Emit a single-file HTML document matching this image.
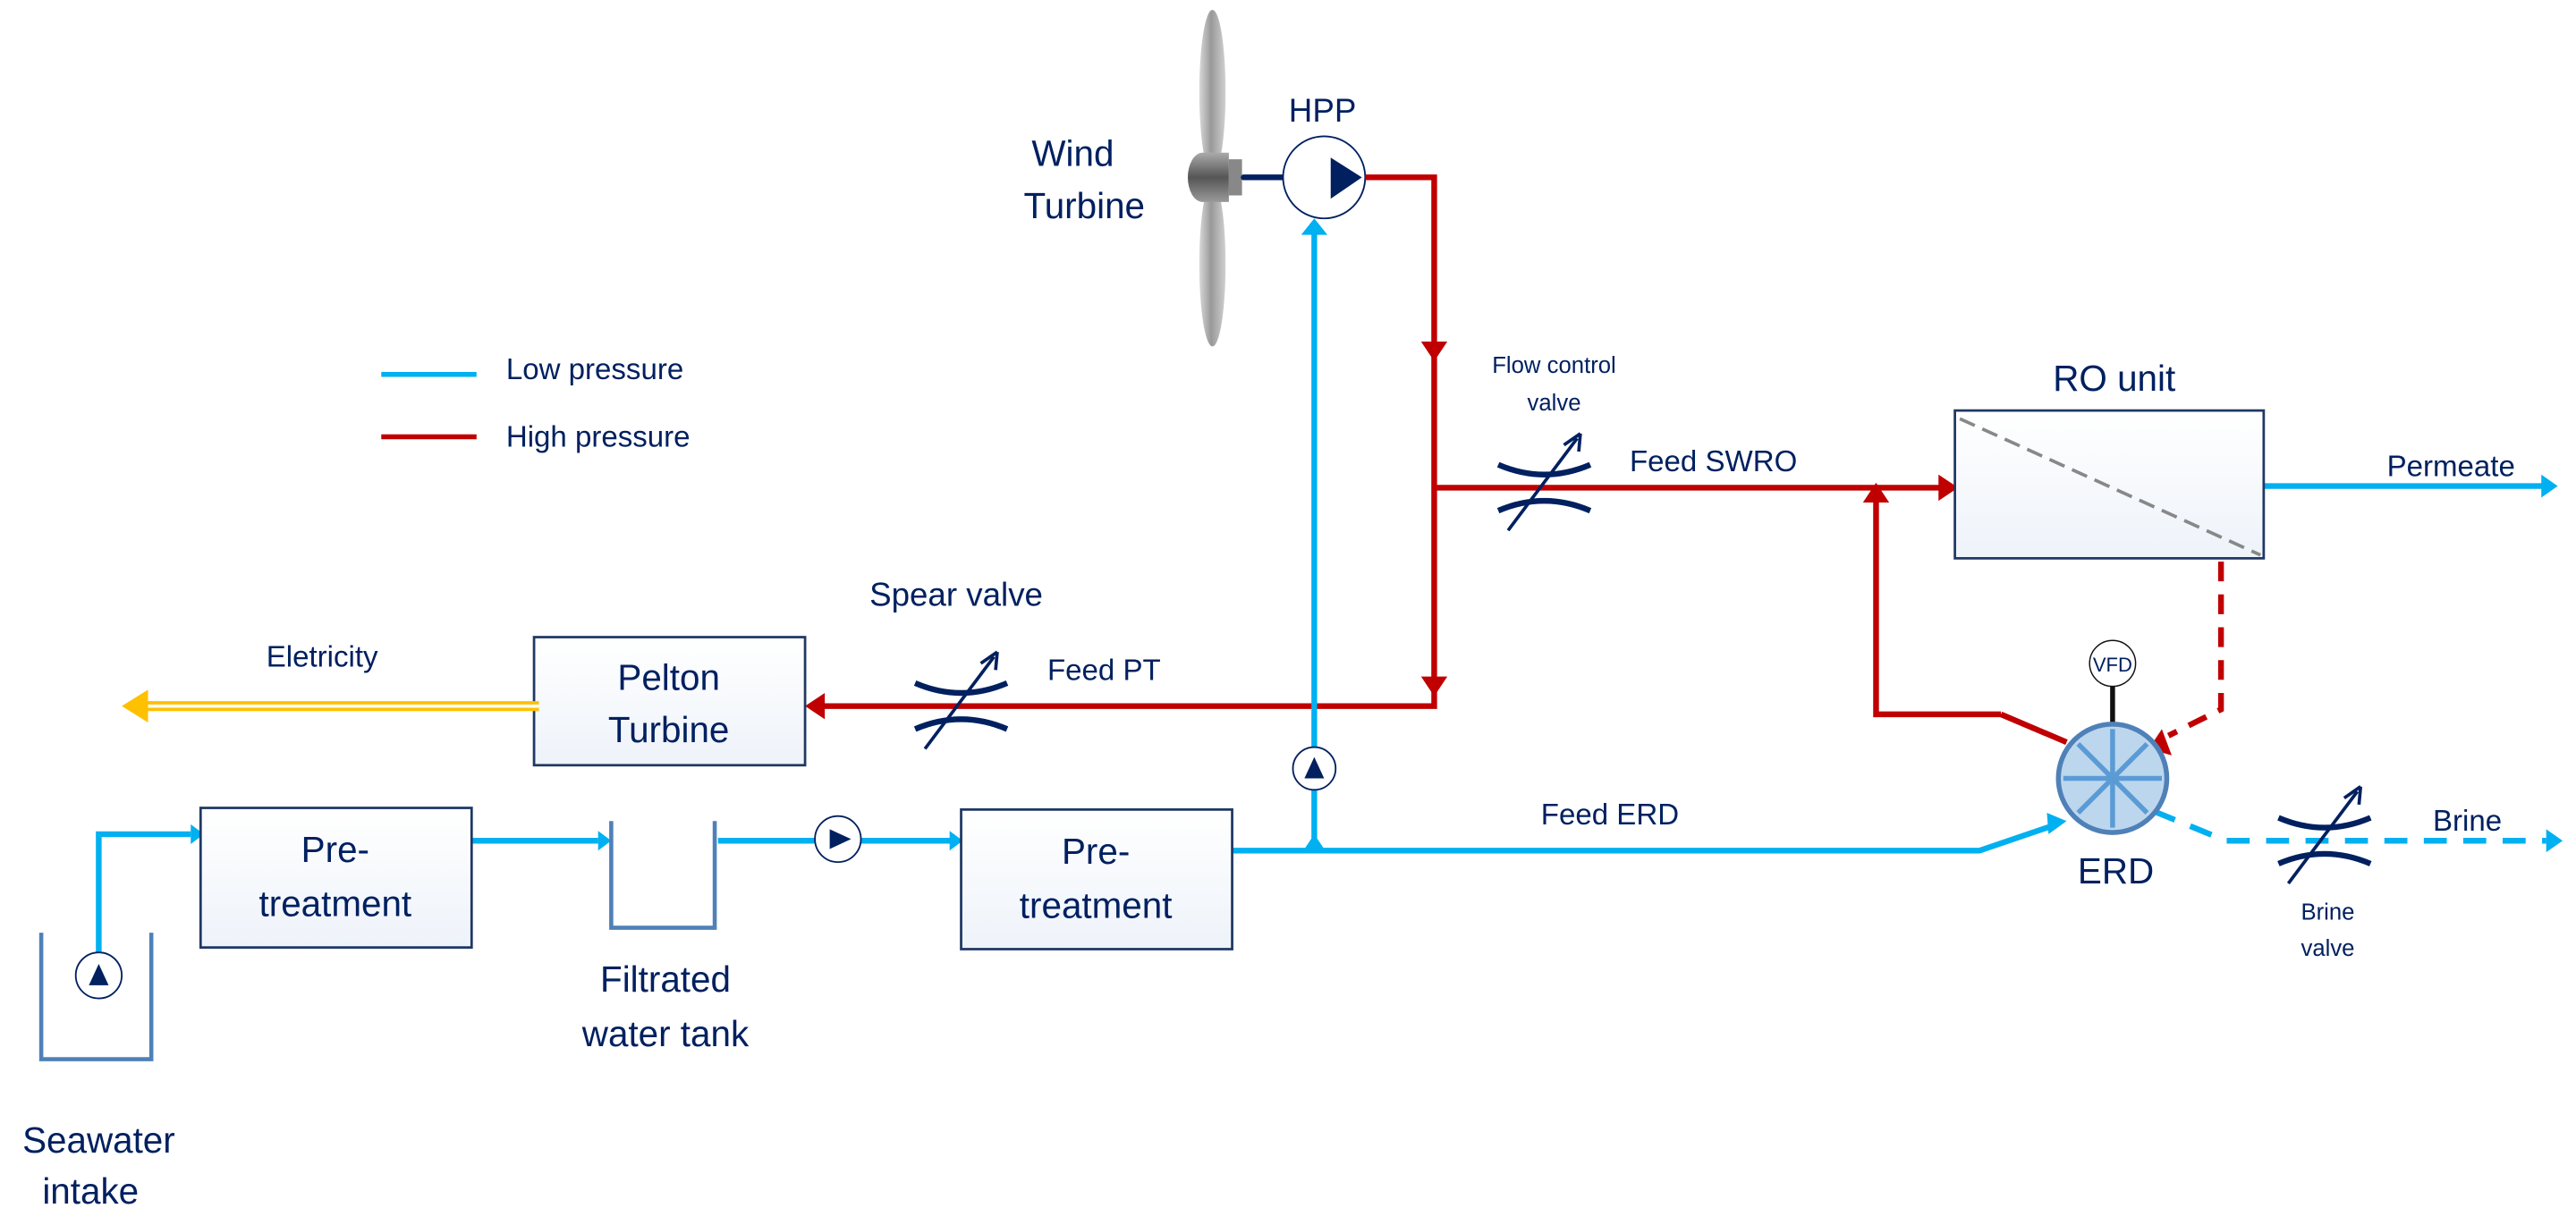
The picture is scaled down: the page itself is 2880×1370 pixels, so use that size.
<!DOCTYPE html>
<html><head><meta charset="utf-8"><style>
html,body{margin:0;padding:0;background:#fff;}
svg{display:block;}
text{font-family:"Liberation Sans",sans-serif;fill:#002060;}
</style></head><body>
<svg width="2880" height="1370" viewBox="0 0 1568 746" xmlns="http://www.w3.org/2000/svg">
<defs>
<linearGradient id="blade" x1="0" x2="1"><stop offset="0" stop-color="#d8d8d8"/><stop offset="0.45" stop-color="#999"/><stop offset="1" stop-color="#d0d0d0"/></linearGradient>
<linearGradient id="hub" x1="0" y1="0" x2="0" y2="1"><stop offset="0" stop-color="#aaa"/><stop offset="0.5" stop-color="#555"/><stop offset="1" stop-color="#999"/></linearGradient>
<linearGradient id="box" x1="0" y1="0" x2="0" y2="1"><stop offset="0" stop-color="#fff"/><stop offset="1" stop-color="#eef3fa"/></linearGradient>
<g id="valve">
<path d="M-28,-14 Q0,-2 28,-14" fill="none" stroke="#002060" stroke-width="3.5"/>
<path d="M-28,14 Q0,2 28,14" fill="none" stroke="#002060" stroke-width="3.5"/>
<line x1="-22" y1="26" x2="20" y2="-30" stroke="#002060" stroke-width="2"/>
<path d="M22,-33 L12,-26 M22,-33 L21,-22" stroke="#002060" stroke-width="2" fill="none"/>
</g>
</defs>

<!-- legend -->
<line x1="232" y1="228" x2="290" y2="228" stroke="#00b0f0" stroke-width="3"/>
<text x="308" y="231" font-size="18">Low pressure</text>
<line x1="232" y1="266" x2="290" y2="266" stroke="#c00000" stroke-width="3"/>
<text x="308" y="272" font-size="18">High pressure</text>

<!-- wind turbine -->
<ellipse cx="738" cy="56" rx="8" ry="50" fill="url(#blade)"/>
<ellipse cx="738" cy="161" rx="8" ry="50" fill="url(#blade)"/>
<path d="M732,93 h16 v30 h-16 a9,15 0 0 1 0,-30z" fill="url(#hub)"/>
<rect x="748" y="97" width="8" height="22" fill="#888"/>
<line x1="757" y1="108" x2="781" y2="108" stroke="#002060" stroke-width="3.5" stroke-linecap="round"/>
<text x="653" y="101" font-size="22" text-anchor="middle">Wind</text>
<text x="660" y="133" font-size="22" text-anchor="middle">Turbine</text>

<!-- HPP -->
<text x="805" y="74" font-size="20" text-anchor="middle">HPP</text>
<circle cx="806" cy="108" r="25" fill="#fff" stroke="#002060" stroke-width="1"/>
<path d="M810,96 L829,108 L810,121z" fill="#002060"/>

<!-- red HP lines -->
<g stroke="#c00000" stroke-width="3.5" fill="none">
<path d="M831,108 H873 V430 H495"/>
<path d="M873,297 H1185"/>
<path d="M1218,435 L1142,435 V303"/>
<path d="M1218,435 L1258,452"/>
<path d="M1352,342 V432 L1320,448" stroke-dasharray="12,8"/>
</g>
<g fill="#c00000">
<path d="M865,208 L881,208 L873,220z"/>
<path d="M865,412 L881,412 L873,424z"/>
<path d="M1180,289 L1192,297 L1180,305z"/>
<path d="M490,430 L502,422 L502,438z"/>
<path d="M1134,306 L1142,294 L1150,306z"/>
<path d="M1308,456 L1316,444 L1322,460z"/>
</g>

<!-- blue LP lines -->
<g stroke="#00b0f0" stroke-width="3.5" fill="none">
<path d="M800,516 V140"/>
<path d="M750,518 H800 H1205 L1252,502"/>
<path d="M60,580 V508 H116"/>
<path d="M287,512 H364"/>
<path d="M437,512 H496"/>
<path d="M524,512 H579"/>
<path d="M1378,296 H1548"/>
<path d="M1311,494 L1355,512 H1550" stroke-dasharray="14,10"/>
</g>
<g fill="#00b0f0">
<path d="M792,143 L800,133 L808,143z"/>
<path d="M116,502 L124,508 L116,514z"/>
<path d="M364,506 L372,512 L364,518z"/>
<path d="M578,506 L586,512 L578,518z"/>
<path d="M1547,289 L1557,296 L1547,303z"/>
<path d="M1550,505 L1560,512 L1550,519z"/>
<path d="M1246,495 L1258,500 L1247,508z"/>
<path d="M794,517 L800,508 L806,517z"/>
</g>

<!-- small pump on vertical -->
<circle cx="800" cy="468" r="13" fill="#fff" stroke="#002060" stroke-width="1"/>
<path d="M794,474 L800,461 L806,474z" fill="#002060"/>

<!-- flow control valve -->
<use href="#valve" x="940" y="297"/>
<text x="946" y="227" font-size="14" text-anchor="middle">Flow control</text>
<text x="946" y="250" font-size="14" text-anchor="middle">valve</text>
<text x="1043" y="287" font-size="18" text-anchor="middle">Feed SWRO</text>

<!-- RO -->
<text x="1287" y="238" font-size="22" text-anchor="middle">RO unit</text>
<rect x="1190" y="250" width="188" height="90" fill="url(#box)" stroke="#1f3864" stroke-width="1.5"/>
<line x1="1193" y1="255" x2="1376" y2="338" stroke="#888" stroke-width="2" stroke-dasharray="10,5"/>
<text x="1492" y="290" font-size="18" text-anchor="middle">Permeate</text>

<!-- ERD -->
<line x1="1286" y1="418" x2="1286" y2="442" stroke="#111" stroke-width="3"/>
<circle cx="1286" cy="404" r="14" fill="#fff" stroke="#111" stroke-width="0.8"/>
<text x="1286" y="409" font-size="12" text-anchor="middle">VFD</text>
<circle cx="1286" cy="474" r="33" fill="#bcd6ee" stroke="#4f81b8" stroke-width="3"/>
<g stroke="#5b9bd5" stroke-width="3">
<line x1="1286" y1="444" x2="1286" y2="504"/>
<line x1="1256" y1="474" x2="1316" y2="474"/>
<line x1="1265" y1="453" x2="1307" y2="495"/>
<line x1="1307" y1="453" x2="1265" y2="495"/>
</g>
<text x="1288" y="538" font-size="22" text-anchor="middle">ERD</text>
<text x="980" y="502" font-size="18" text-anchor="middle">Feed ERD</text>

<!-- brine valve -->
<use href="#valve" x="1415" y="512"/>
<text x="1502" y="506" font-size="18" text-anchor="middle">Brine</text>
<text x="1417" y="560" font-size="14" text-anchor="middle">Brine</text>
<text x="1417" y="582" font-size="14" text-anchor="middle">valve</text>

<!-- Pelton -->
<rect x="325" y="388" width="165" height="78" fill="url(#box)" stroke="#1f3864" stroke-width="1.5"/>
<text x="407" y="420" font-size="22" text-anchor="middle">Pelton</text>
<text x="407" y="452" font-size="22" text-anchor="middle">Turbine</text>
<use href="#valve" x="585" y="430"/>
<text x="582" y="369" font-size="20" text-anchor="middle">Spear valve</text>
<text x="672" y="414" font-size="18" text-anchor="middle">Feed PT</text>

<!-- electricity -->
<line x1="88" y1="430" x2="328" y2="430" stroke="#ffc000" stroke-width="6"/>
<line x1="88" y1="430" x2="328" y2="430" stroke="#fff" stroke-width="2"/>
<path d="M74,430 L90,420 L90,440z" fill="#ffc000"/>
<text x="196" y="406" font-size="18" text-anchor="middle">Eletricity</text>

<!-- pre-treatment 1 -->
<rect x="122" y="492" width="165" height="85" fill="url(#box)" stroke="#1f3864" stroke-width="1.5"/>
<text x="204" y="525" font-size="22" text-anchor="middle">Pre-</text>
<text x="204" y="558" font-size="22" text-anchor="middle">treatment</text>
<!-- pre-treatment 2 -->
<rect x="585" y="493" width="165" height="85" fill="url(#box)" stroke="#1f3864" stroke-width="1.5"/>
<text x="667" y="526" font-size="22" text-anchor="middle">Pre-</text>
<text x="667" y="559" font-size="22" text-anchor="middle">treatment</text>

<!-- tanks -->
<path d="M25,568 V645 H92 V568" fill="none" stroke="#4f81b8" stroke-width="2.5"/>
<circle cx="60" cy="594" r="14" fill="#fff" stroke="#002060" stroke-width="1"/>
<path d="M54,600 L60,587 L66,600z" fill="#002060"/>
<path d="M372,500 V565 H435 V500" fill="none" stroke="#4f81b8" stroke-width="2.5"/>
<circle cx="510" cy="511" r="14" fill="#fff" stroke="#002060" stroke-width="1"/>
<path d="M505,505 L518,511 L505,517z" fill="#002060"/>

<text x="405" y="604" font-size="22" text-anchor="middle">Filtrated</text>
<text x="405" y="637" font-size="22" text-anchor="middle">water tank</text>
<text x="60" y="702" font-size="22" text-anchor="middle">Seawater</text>
<text x="55" y="733" font-size="22" text-anchor="middle">intake</text>
</svg>
</body></html>
